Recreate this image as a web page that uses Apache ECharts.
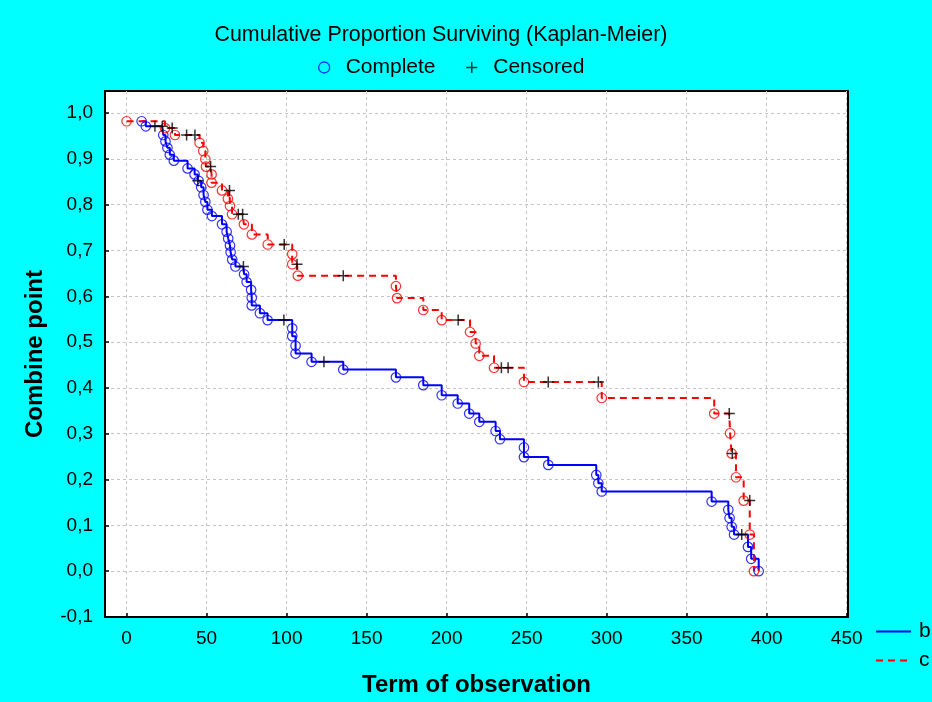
<!DOCTYPE html>
<html><head><meta charset="utf-8">
<script src="https://cdn.jsdelivr.net/npm/echarts@6/dist/echarts.min.js"></script>
<style>html,body{margin:0;padding:0;background:#00ffff}#c{width:932px;height:702px}</style>
</head><body><div id="c"></div>
<script>
// ---- data ----
const xTicks = [0, 50, 100, 150, 200, 250, 300, 350, 400, 450];
const yTicks = [-0.1, 0, 0.1, 0.2, 0.3, 0.4, 0.5, 0.6, 0.7, 0.8, 0.9, 1.0];

// group b: complete events (time, survival)
const bCompleteT = [9.4, 12, 22.9, 24.3, 25.5, 27, 29.5, 38.1, 42.5, 45, 46.6, 48.1, 49.2, 50.5, 53.3, 59.6, 62.5, 63.5, 64.6, 65, 66, 68, 73.4, 75, 77.8, 78.2, 78.2, 83.3, 88.1, 103.5, 103.5, 105.6, 105.6, 115.6, 135.4, 168.3, 185.4, 196.9, 206.9, 214.1, 220.4, 230.6, 233.3, 248.3, 248.3, 263.5, 293.5, 294.8, 296.9, 365.6, 376, 376.8, 378.1, 379.6, 388.3, 390.3, 395];
const bCompleteS = [0.982, 0.971, 0.952, 0.938, 0.924, 0.909, 0.896, 0.879, 0.866, 0.852, 0.838, 0.821, 0.806, 0.789, 0.775, 0.757, 0.741, 0.726, 0.711, 0.696, 0.680, 0.665, 0.648, 0.631, 0.614, 0.597, 0.580, 0.563, 0.548, 0.530, 0.513, 0.492, 0.475, 0.457, 0.440, 0.423, 0.406, 0.384, 0.366, 0.344, 0.326, 0.306, 0.288, 0.270, 0.249, 0.232, 0.210, 0.192, 0.174, 0.152, 0.134, 0.116, 0.097, 0.080, 0.053, 0.027, 0.0];
// group b: censored
const bCensoredT = [17.7, 22.3, 44.5, 73.0, 98.3, 123.3, 384.4];
const bCensoredS = [0.971, 0.971, 0.852, 0.665, 0.548, 0.457, 0.080];

// group c: complete events
const cCompleteT = [0, 24, 30.2, 45.6, 47.9, 49.2, 49.6, 53.1, 53.1, 59.6, 63.3, 64.6, 65.9, 73.3, 78.3, 88.2, 103.5, 103.5, 107, 168.3, 169, 185.4, 196.9, 214.6, 218.1, 220.4, 229.6, 248.3, 296.9, 367.2, 377.1, 378.1, 380.8, 385.6, 389.4, 392];
const cCompleteS = [0.982, 0.967, 0.952, 0.935, 0.917, 0.899, 0.883, 0.866, 0.848, 0.831, 0.813, 0.797, 0.779, 0.757, 0.735, 0.713, 0.692, 0.670, 0.645, 0.622, 0.596, 0.570, 0.548, 0.522, 0.497, 0.470, 0.444, 0.413, 0.378, 0.344, 0.301, 0.257, 0.205, 0.154, 0.080, 0.0];
// group c: censored
const cCensoredT = [28.5, 37.5, 42.7, 52.5, 64.3, 69.8, 72.5, 98.5, 106.5, 135.4, 207.2, 234.2, 238.4, 263.5, 294.8, 376.6, 378.5, 389.4];
const cCensoredS = [0.967, 0.952, 0.952, 0.883, 0.831, 0.779, 0.779, 0.713, 0.670, 0.645, 0.548, 0.444, 0.444, 0.413, 0.413, 0.344, 0.257, 0.154];

// ---- helpers ----
function pairs(t, s) { return t.map((v, i) => [v, s[i]]); }
function stepData(t1, s1, t2, s2) {
  const all = pairs(t1, s1).concat(pairs(t2, s2));
  all.sort((a, b) => a[0] - b[0] || b[1] - a[1]);
  return all;
}
const plusPath = 'path://M0,6H12M6,0V12';
const FONT = 'Liberation Sans, Arial, sans-serif';
const hiddenSymbol = { color: 'rgba(0,0,0,0)', borderWidth: 0, opacity: 0 };

const chart = echarts.init(document.getElementById('c'), null, { renderer: 'canvas' });
chart.setOption({
  animation: false,
  backgroundColor: '#00ffff',
  textStyle: { fontFamily: FONT, color: '#000' },
  title: {
    text: 'Cumulative Proportion Surviving (Kaplan-Meier)',
    left: 436, textAlign: 'center', top: 20,
    textStyle: { fontFamily: FONT, fontSize: 21.4, fontWeight: 'normal', color: '#000' }
  },
  legend: [{
    left: 313, top: 52, itemWidth: 11, itemHeight: 11, itemGap: 30,
    selectedMode: false,
    textStyle: { fontFamily: FONT, fontSize: 21, color: '#000', padding: [0, 0, 0, 11] },
    data: [
      { name: 'Complete', icon: 'circle', itemStyle: { color: 'rgba(0,0,0,0)', borderColor: '#0000ff', borderWidth: 1.3 } },
      { name: 'Censored', icon: plusPath, itemStyle: { color: 'rgba(0,0,0,0)', borderColor: '#000', borderWidth: 1.5 } }
    ]
  }, {
    left: 875, top: 621, padding: 0, orient: 'vertical', itemWidth: 35, itemHeight: 20, itemGap: 8,
    selectedMode: false,
    textStyle: { fontFamily: FONT, fontSize: 21, color: '#000', padding: [0, 0, 0, 3] },
    data: [
      { name: 'b', itemStyle: hiddenSymbol },
      { name: 'c', itemStyle: hiddenSymbol }
    ]
  }],
  grid: {
    left: 105, top: 91, right: 84, bottom: 83,
    show: true, backgroundColor: '#ffffff', borderColor: '#000', borderWidth: 2
  },
  xAxis: {
    type: 'value', min: -13.5, max: 450.8,
    name: 'Term of observation', nameLocation: 'middle', nameGap: 56,
    nameTextStyle: { fontFamily: FONT, fontSize: 24, fontWeight: 'bold', color: '#000' },
    axisLine: { onZero: false, lineStyle: { color: '#000', width: 2 } },
    axisTick: { inside: true, length: 4, customValues: xTicks, lineStyle: { color: '#000', width: 1.5 } },
    axisLabel: { customValues: xTicks, margin: 12, fontFamily: FONT, fontSize: 19, color: '#000' },
    splitLine: { show: true, lineStyle: { color: '#c4c4c4', width: 1, type: [3, 3] } }
  },
  yAxis: {
    type: 'value', min: -0.1, max: 1.048,
    name: 'Combine point', nameLocation: 'middle', nameGap: 58, nameRotate: 90,
    nameTextStyle: { fontFamily: FONT, fontSize: 24, fontWeight: 'bold', color: '#000' },
    axisLine: { show: true, onZero: false, lineStyle: { color: '#000', width: 2 } },
    axisTick: { show: true, inside: true, length: 4, customValues: yTicks, lineStyle: { color: '#000', width: 1.5 } },
    axisLabel: {
      customValues: yTicks,
      margin: 12, fontFamily: FONT, fontSize: 19, color: '#000',
      formatter: v => (+v).toFixed(1).replace('.', ',')
    },
    splitLine: { show: true, lineStyle: { color: '#c4c4c4', width: 1, type: [3, 3] } }
  },
  series: [
    {
      name: 'b', type: 'line', step: 'end', symbol: 'none', z: 2,
      data: stepData(bCompleteT, bCompleteS, bCensoredT, bCensoredS),
      itemStyle: { color: '#0000ff' },
      lineStyle: { color: '#0000ff', width: 2 }
    },
    {
      name: 'c', type: 'line', step: 'end', symbol: 'none', z: 2,
      data: stepData(cCompleteT, cCompleteS, cCensoredT, cCensoredS),
      itemStyle: { color: '#ff0000' },
      lineStyle: { color: '#ff0000', width: 2, type: [7, 5] }
    },
    {
      name: 'Complete', type: 'scatter', symbol: 'circle', symbolSize: 9.5, z: 3, clip: false,
      data: pairs(bCompleteT, bCompleteS),
      itemStyle: { color: 'rgba(0,0,0,0)', borderColor: '#0000ff', borderWidth: 1.2 }
    },
    {
      name: 'Complete', type: 'scatter', symbol: 'circle', symbolSize: 9.5, z: 3, clip: false,
      data: pairs(cCompleteT, cCompleteS),
      itemStyle: { color: 'rgba(0,0,0,0)', borderColor: '#ff0000', borderWidth: 1.2 }
    },
    {
      name: 'Censored', type: 'scatter', symbol: plusPath, symbolSize: 11, z: 4, clip: false,
      data: pairs(bCensoredT, bCensoredS),
      itemStyle: { color: 'rgba(0,0,0,0)', borderColor: '#000', borderWidth: 1.5 }
    },
    {
      name: 'Censored', type: 'scatter', symbol: plusPath, symbolSize: 11, z: 4, clip: false,
      data: pairs(cCensoredT, cCensoredS),
      itemStyle: { color: 'rgba(0,0,0,0)', borderColor: '#000', borderWidth: 1.5 }
    }
  ]
});
</script></body></html>
